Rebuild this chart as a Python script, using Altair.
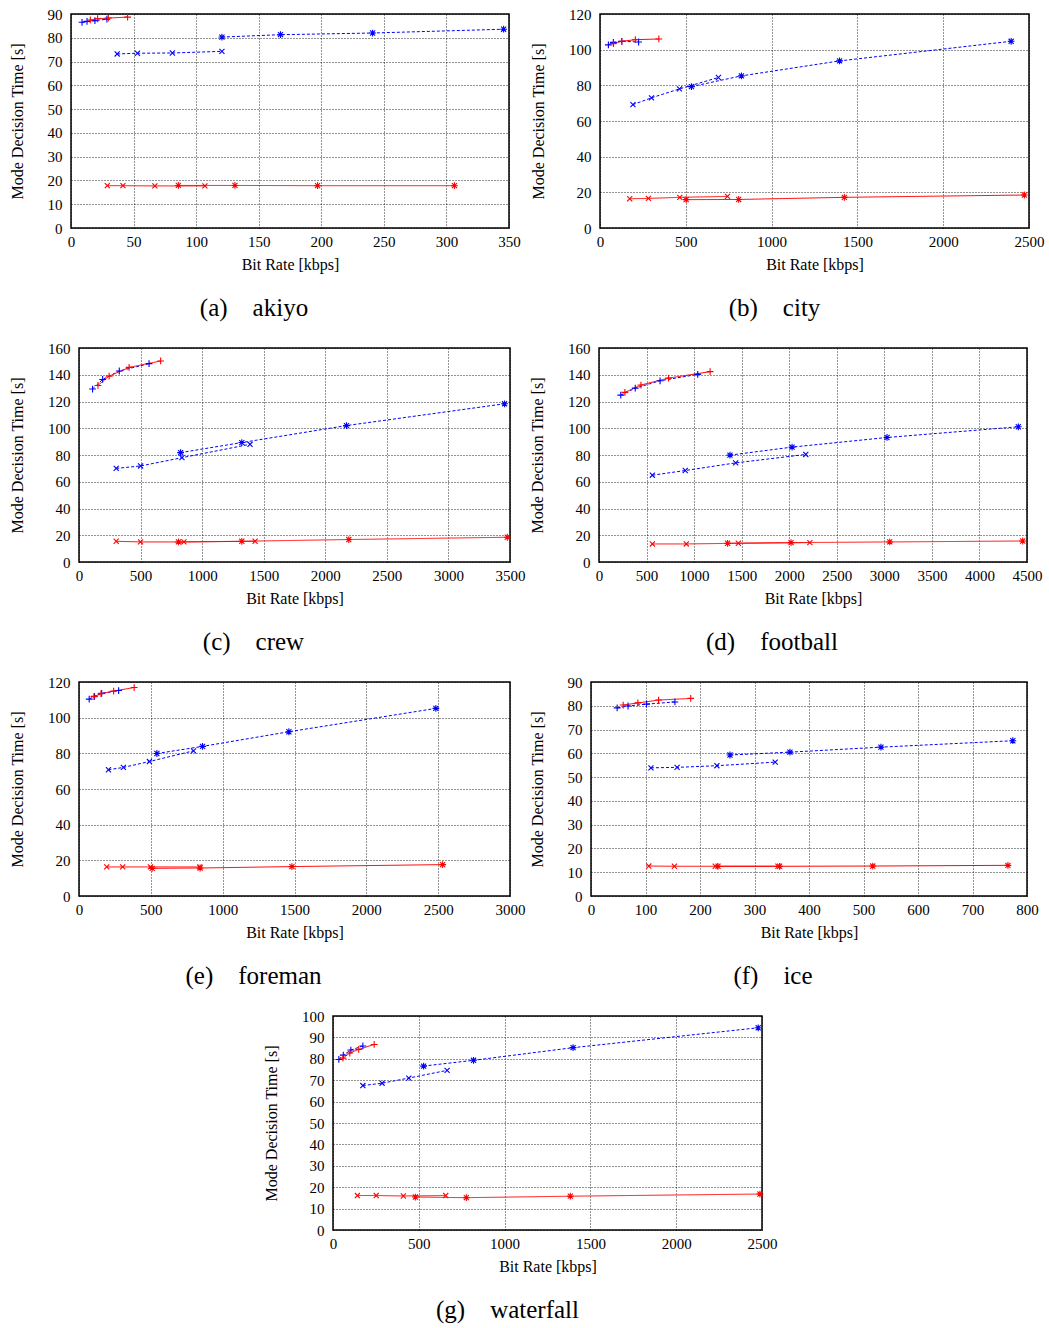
import altair as alt
import pandas as pd

FONT = "Liberation Serif"
BLUE = "#0000ff"
RED = "#ff0000"

# Each series: (bit rates in kbps, mode decision times in s)
AKIYO = {
    "blue_plus": ([8.8, 12.8, 19.1, 28.7], [86.5, 86.9, 87.2, 87.8]),
    "red_plus": ([15.4, 21.3, 29.8, 45.2], [87.5, 88.0, 88.3, 88.7]),
    "blue_x": ([36.9, 53.1, 81.0, 120.6], [73.2, 73.5, 73.6, 74.3]),
    "blue_star": ([120.6, 167.4, 241.0, 345.7], [80.3, 81.3, 82.0, 83.6]),
    "red_x": ([29.0, 41.5, 67.0, 107.0], [17.8, 17.8, 17.7, 17.7]),
    "red_star": ([85.8, 131.0, 197.0, 306.4], [17.9, 17.9, 17.8, 17.8]),
}
CITY = {
    "blue_plus": ([49, 78, 127, 225], [102.7, 104.1, 104.7, 104.3]),
    "red_plus": ([78, 127, 206, 343], [103.4, 104.7, 105.6, 106.0]),
    "blue_x": ([192, 300, 463, 690], [69.2, 73.0, 78.0, 84.4]),
    "blue_star": ([533, 824, 1396, 2396], [79.3, 85.3, 93.7, 104.7]),
    "red_x": ([173, 282, 465, 743], [16.4, 16.6, 17.2, 17.7]),
    "red_star": ([502, 808, 1424, 2473], [15.9, 16.0, 17.2, 18.5]),
}
CREW = {
    "blue_plus": ([110, 192, 327, 569], [129.3, 136.5, 142.8, 148.3]),
    "red_plus": ([154, 245, 407, 663], [132.0, 139.0, 145.5, 150.3]),
    "blue_x": ([302, 500, 836, 1389], [70.0, 71.8, 78.0, 88.0]),
    "blue_star": ([825, 1322, 2172, 3456], [81.8, 89.3, 102.0, 118.3]),
    "red_x": ([302, 500, 852, 1430], [15.5, 15.0, 15.0, 15.5]),
    "red_star": ([808, 1322, 2191, 3478], [15.0, 15.5, 16.8, 18.5]),
}
FOOTBALL = {
    "blue_plus": ([229, 381, 642, 1038], [124.8, 130.0, 135.5, 140.3]),
    "red_plus": ([272, 441, 731, 1168], [126.8, 132.3, 137.5, 142.3]),
    "blue_x": ([561, 907, 1437, 2174], [64.9, 68.4, 74.1, 80.4]),
    "blue_star": ([1377, 2030, 3028, 4409], [79.9, 85.9, 93.1, 101.1]),
    "red_x": ([561, 918, 1465, 2217], [13.5, 13.5, 14.0, 14.5]),
    "red_star": ([1352, 2019, 3057, 4455], [14.0, 14.5, 15.0, 15.7]),
}
FOREMAN = {
    "blue_plus": ([71, 108, 158, 276], [110.4, 112.0, 113.6, 115.2]),
    "red_plus": ([104, 153, 241, 384], [111.8, 113.5, 114.9, 116.9]),
    "blue_x": ([205, 309, 490, 797], [70.8, 72.1, 75.4, 81.4]),
    "blue_star": ([542, 860, 1461, 2484], [79.9, 83.9, 92.1, 105.2]),
    "red_x": ([193, 304, 497, 841], [16.3, 16.3, 16.3, 16.3]),
    "red_star": ([509, 843, 1482, 2531], [15.5, 15.7, 16.5, 17.6]),
}
ICE = {
    "blue_plus": ([48, 68, 102, 154], [79.1, 79.9, 80.7, 81.6]),
    "red_plus": ([59, 86, 124, 183], [80.3, 81.2, 82.4, 83.1]),
    "blue_x": ([110, 158, 231, 338], [53.9, 54.1, 54.8, 56.3]),
    "blue_star": ([255, 365, 532, 774], [59.3, 60.5, 62.6, 65.3]),
    "red_x": ([106, 153, 228, 343], [12.6, 12.5, 12.5, 12.5]),
    "red_star": ([233, 346, 517, 765], [12.5, 12.5, 12.6, 12.9]),
}
WATERFALL = {
    "blue_plus": ([34, 60, 104, 174], [79.7, 81.7, 84.1, 86.0]),
    "red_plus": ([58, 98, 150, 240], [80.3, 82.7, 84.4, 86.7]),
    "blue_x": ([174, 286, 442, 665], [67.5, 68.6, 71.0, 74.6]),
    "blue_star": ([528, 819, 1399, 2478], [76.6, 79.3, 85.2, 94.5]),
    "red_x": ([142, 252, 410, 657], [16.1, 16.1, 15.9, 16.1]),
    "red_star": ([480, 777, 1383, 2488], [15.4, 15.1, 15.8, 16.8]),
}

# gnuplot-style stroked point symbols
PLUS = "M-1,0L1,0M0,-1L0,1"
CROSS = "M-0.75,-0.75L0.75,0.75M-0.75,0.75L0.75,-0.75"
STAR = PLUS + CROSS

colour_scale = alt.Scale(domain=["blue", "red"], range=[BLUE, RED])
dash_scale = alt.Scale(domain=["blue", "red"], range=[[3, 2], [1, 0]])
shape_scale = alt.Scale(domain=["plus", "x", "star"], range=[PLUS, CROSS, STAR])


def panel(series, caption, xmax, xstep, ymax, ystep, width, dx):
    rows = []
    for key, (rates, times) in series.items():
        colour, marker = key.split("_")
        for r, t in zip(rates, times):
            rows.append({"rate": r, "time": t, "series": key,
                         "colour": colour, "marker": marker})
    df = pd.DataFrame(rows)
    x = alt.X("rate:Q",
              scale=alt.Scale(domain=[0, xmax], nice=False, zero=False),
              axis=alt.Axis(values=list(range(0, xmax + 1, xstep)), format="d",
                            title="Bit Rate [kbps]", labelPadding=6, titlePadding=7))
    y = alt.Y("time:Q",
              scale=alt.Scale(domain=[0, ymax], nice=False, zero=False),
              axis=alt.Axis(values=list(range(0, ymax + 1, ystep)), format="d",
                            title="Mode Decision Time [s]", labelPadding=9, titlePadding=22))
    colour = alt.Color("colour:N", scale=colour_scale, legend=None)
    base = alt.Chart(df)
    lines = base.mark_line(strokeWidth=1).encode(
        x=x, y=y, color=colour, detail="series:N", order="rate:Q",
        strokeDash=alt.StrokeDash("colour:N", scale=dash_scale, legend=None))
    points = base.mark_point(filled=False, size=46, strokeWidth=1.1, opacity=1).encode(
        x=x, y=y, color=colour,
        shape=alt.Shape("marker:N", scale=shape_scale, legend=None))
    return alt.layer(lines, points).properties(
        width=width, height=214,
        title=alt.TitleParams(caption, orient="bottom", anchor="middle", frame="group",
                              offset=24, dx=dx))


def spacer(width):
    # invisible view used to set the left edge of a row
    return alt.Chart(pd.DataFrame({"v": [0]})).mark_point(opacity=0).encode(
        x=alt.value(0), y=alt.value(0)
    ).properties(width=width, height=10, view=alt.ViewBackground(stroke=None))


pa = panel(AKIYO, "(a)\u2003akiyo", 350, 50, 90, 10, 438, -36)
pb = panel(CITY, "(b)\u2003city", 2500, 500, 120, 20, 429, -40)
pc = panel(CREW, "(c)\u2003crew", 3500, 500, 160, 20, 431, -41)
pd_ = panel(FOOTBALL, "(d)\u2003football", 4500, 500, 160, 20, 428, -41)
pe = panel(FOREMAN, "(e)\u2003foreman", 3000, 500, 120, 20, 431, -41)
pf = panel(ICE, "(f)\u2003ice", 800, 100, 90, 10, 436, -36)
pg = panel(WATERFALL, "(g)\u2003waterfall", 2500, 500, 100, 10, 429, -40)

row1 = alt.hconcat(spacer(1), alt.hconcat(pa, pb, spacing=8), spacing=0)
row2 = alt.hconcat(spacer(1), alt.hconcat(pc, pd_, spacing=2), spacing=0)
row3 = alt.hconcat(spacer(1), alt.hconcat(pe, pf, spacing=2), spacing=0)
row4 = alt.hconcat(spacer(257), pg, spacing=0)

chart = alt.vconcat(row1, row2, row3, row4, spacing=18).properties(
    padding={"left": 2, "top": 6, "right": 2, "bottom": 2},
    background="white",
).configure_view(
    stroke="black", strokeWidth=1.5
).configure_axis(
    labelFont=FONT, labelFontSize=15, labelColor="black",
    titleFont=FONT, titleFontSize=16, titleFontWeight="normal", titleColor="black",
    ticks=False, domain=False, labelFlush=False, labelOverlap=False, labelBound=False,
    grid=True, gridColor="black", gridDash=[1, 2], gridWidth=1, gridOpacity=0.85,
).configure_title(
    font=FONT, fontSize=25, fontWeight="normal", color="black"
)

chart.save("out.html", embed_options={"renderer": "svg", "actions": False})
